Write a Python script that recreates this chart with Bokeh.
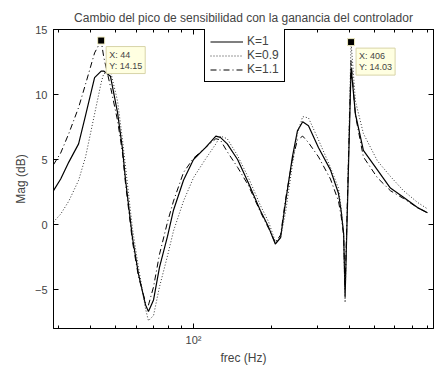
from bokeh.plotting import figure
from bokeh.models import Range1d, FixedTicker, LinearAxis, LogAxis, Legend, LegendItem, Label, ColumnDataSource
from bokeh.embed import file_html
from bokeh.resources import INLINE

# frequency grid (Hz)
freq = [28.8, 30.7, 33, 36, 38.3, 41.5, 44, 45, 47.8, 50.9, 53.2, 54.6, 58.1, 61.3, 65.3, 67, 70.1, 73.9,
        79.4, 83.7, 91.5, 100, 111, 122, 127, 135, 148, 163, 181, 195, 207, 217, 227, 241, 252, 264, 278,
        304, 338, 363, 372, 380, 385, 406, 422, 453, 513, 576, 647, 733, 801]

mag_k1 = [2.6, 3.5, 4.8, 6.2, 8.4, 11.3, 11.8, 11.8, 11.4, 8.6, 5.8, 3.5, -1.0, -3.8, -6.2, -6.7, -5.8, -3.3,
          -0.9, 1.1, 3.4, 5.0, 5.9, 6.8, 6.7, 6.2, 5.0, 3.2, 1.1, -0.2, -1.5, -1.0, 1.8, 5.2, 7.2, 7.9, 7.6,
          5.9, 4.2, 2.4, 1.0, -0.7, -5.6, 12.1, 8.5, 5.7, 4.2, 2.8, 2.1, 1.3, 0.9]

mag_k09 = [0.2, 0.8, 1.8, 3.4, 5.2, 8.5, 10.9, 11.6, 11.8, 9.5, 6.5, 4.5, -0.3, -3.3, -6.5, -7.4, -7.0, -4.8,
           -2.4, -0.5, 1.8, 3.6, 5.0, 6.2, 6.8, 6.6, 5.3, 3.6, 1.5, 0.2, -1.3, -1.0, 1.0, 4.6, 7.0, 8.3, 8.2,
           6.5, 4.4, 2.8, 1.2, -0.8, -6.0, 14.03, 9.5, 7.0, 4.9, 3.7, 2.6, 1.7, 1.2]

mag_k11 = [4.6, 5.5, 7.0, 9.0, 10.8, 13.2, 14.15, 12.9, 10.6, 8.0, 5.5, 3.2, -1.3, -4.0, -6.0, -6.2, -4.8, -2.3,
           0.2, 1.8, 4.0, 5.1, 5.9, 6.6, 6.5, 5.6, 4.4, 3.0, 1.0, -0.3, -1.4, -0.8, 2.0, 5.0, 6.5, 6.8, 6.3,
           5.2, 3.5, 1.8, 0.6, -0.8, -5.0, 12.6, 8.4, 5.2, 3.6, 2.6, 2.0, 1.3, 0.9]

labels = ["K=1", "K=0.9", "K=1.1"]

# data tips
tip_x = [44, 406]
tip_y = [14.15, 14.03]

x_ticks = [100]
x_minor = [30, 40, 50, 60, 70, 80, 90, 200, 300, 400, 500, 600, 700, 800]
y_ticks = [-5, 0, 5, 10, 15]

FONT = "Liberation Sans"

p = figure(width=434, height=367, x_axis_type="log",
           x_range=Range1d(28.8, 845), y_range=Range1d(-8, 15),
           output_backend="svg", toolbar_location=None,
           min_border_left=53, min_border_right=1, min_border_top=29, min_border_bottom=38,
           title="Cambio del pico de sensibilidad con la ganancia del controlador")
p.title.text_font = FONT
p.title.text_font_size = "12px"
p.title.text_font_style = "normal"
p.title.align = "center"
p.title.standoff = 10
p.xgrid.visible = False
p.ygrid.visible = False
p.outline_line_color = "black"
p.outline_line_alpha = 1
p.background_fill_color = "white"
p.border_fill_color = "white"

xticker = FixedTicker(ticks=x_ticks, minor_ticks=x_minor)
yticker = FixedTicker(ticks=y_ticks)

for ax in [p.xaxis[0], p.yaxis[0]]:
    ax.axis_line_color = "black"
    ax.major_tick_in = 5
    ax.major_tick_out = 0
    ax.minor_tick_in = 3
    ax.minor_tick_out = 0
    ax.major_label_text_font = FONT
    ax.major_label_text_font_size = "11px"
    ax.axis_label_text_font = FONT
    ax.axis_label_text_font_size = "12px"
    ax.axis_label_text_font_style = "normal"

p.xaxis.ticker = xticker
p.xaxis.major_label_overrides = {100: "10\u00b2"}
p.xaxis.axis_label = "frec (Hz)"
p.xaxis.major_label_standoff = 5
p.xaxis.axis_label_standoff = 2
p.yaxis.ticker = yticker
p.yaxis.axis_label = "Mag (dB)"
p.yaxis.major_label_standoff = 6
p.yaxis.axis_label_standoff = 4
p.yaxis.minor_tick_in = 0

top = LogAxis(ticker=xticker, major_label_overrides={100: ""}, major_label_text_font_size="0px",
              major_label_standoff=0, major_tick_in=5, major_tick_out=0, minor_tick_in=3, minor_tick_out=0,
              axis_line_color="black")
right = LinearAxis(ticker=yticker, major_label_overrides={v: "" for v in y_ticks},
                   major_label_text_font_size="0px", major_label_standoff=0,
                   major_tick_in=5, major_tick_out=0, minor_tick_in=0, minor_tick_out=0,
                   axis_line_color="black")
p.add_layout(top, "above")
p.add_layout(right, "right")

src = ColumnDataSource(dict(f=freq, k1=mag_k1, k09=mag_k09, k11=mag_k11))
r1 = p.line("f", "k1", source=src, line_color="black", line_width=1.2)
r2 = p.line("f", "k09", source=src, line_color="#333333", line_width=1.0, line_dash="1 2")
r3 = p.line("f", "k11", source=src, line_color="black", line_width=1.0, line_dash="6 3 1 3")

legend = Legend(items=[LegendItem(label=labels[0], renderers=[r1]),
                       LegendItem(label=labels[1], renderers=[r2]),
                       LegendItem(label=labels[2], renderers=[r3])],
                location=(151, 246), orientation="vertical",
                border_line_color="black", border_line_width=1, border_line_alpha=1,
                background_fill_color="white", background_fill_alpha=1,
                label_text_font=FONT, label_text_font_size="12px",
                glyph_width=33, glyph_height=13, label_height=13, spacing=0,
                padding=5, margin=0, label_standoff=4)
p.add_layout(legend)

# data tips
p.scatter(tip_x, tip_y, marker="square", size=7, fill_color="black", line_color="#f0ecc0", line_width=1)
for tx, ty in zip(tip_x, tip_y):
    lab = Label(x=tx, y=ty, x_offset=5, y_offset=-6, text=f"X: {tx}\nY: {ty}",
                text_font=FONT, text_font_size="9px", text_align="left", text_baseline="top",
                background_fill_color="#ffffe1", border_line_color="#d8d4a8", border_line_width=1,
                padding=3, text_line_height=1.1)
    p.add_layout(lab)

open("out.html", "w").write(file_html(p, INLINE))
